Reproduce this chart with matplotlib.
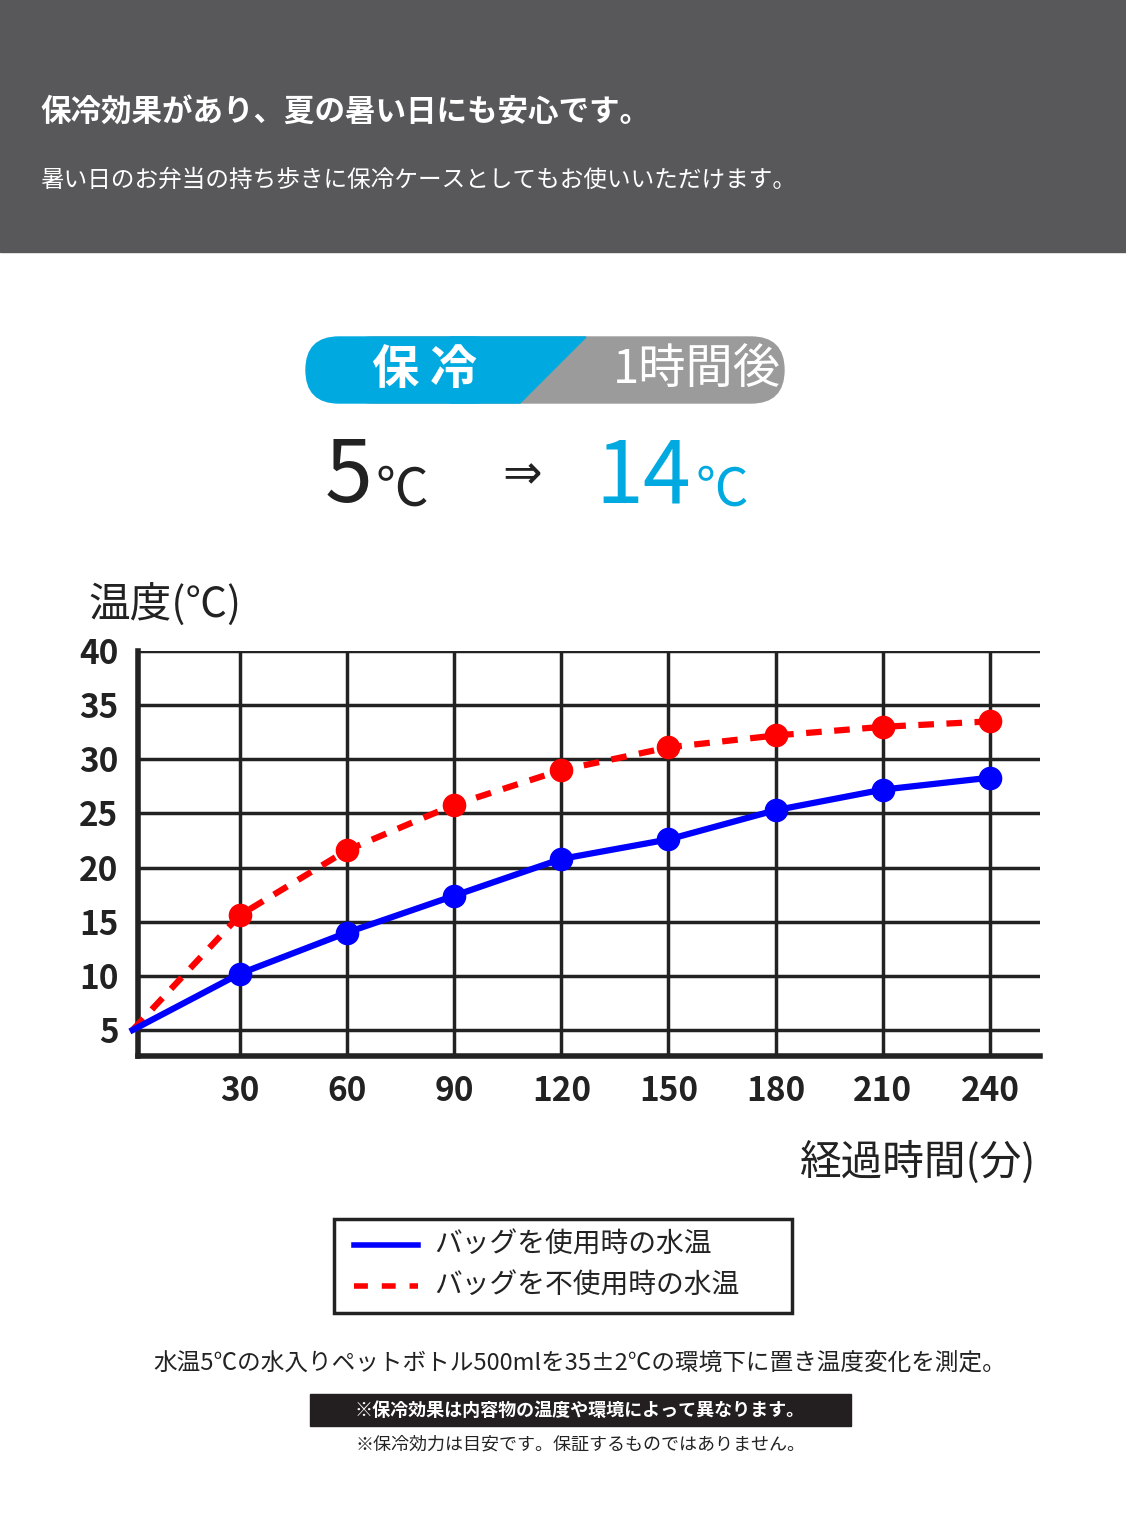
import matplotlib
matplotlib.use("Agg")
import matplotlib.pyplot as plt
from matplotlib.patches import Rectangle, Polygon, FancyBboxPatch
from matplotlib.lines import Line2D

plt.rcParams['font.family'] = ['Noto Sans CJK JP', 'DejaVu Sans']

minutes = [0, 30, 60, 90, 120, 150, 180, 210, 240]
with_bag = [5, 10.2, 14.0, 17.4, 20.8, 22.6, 25.3, 27.2, 28.3]
without_bag = [5, 15.6, 21.6, 25.8, 29.0, 31.1, 32.2, 33.0, 33.5]
x_ticks = [30, 60, 90, 120, 150, 180, 210, 240]
y_ticks = [5, 10, 15, 20, 25, 30, 35, 40]

W, H = 1126, 1536
fig = plt.figure(figsize=(W / 100, H / 100), dpi=100)

# decorative overlay in pixel coordinates
bg = fig.add_axes([0, 0, 1, 1])
bg.set_xlim(0, W)
bg.set_ylim(H, 0)
bg.axis('off')

bg.add_patch(Rectangle((0, 0), W, 252, color='#58585a'))
bg.text(40, 112, '保冷効果があり、夏の暑い日にも安心です。', color='white',
        fontsize=22, fontweight='bold', va='center')
bg.text(40, 180, '暑い日のお弁当の持ち歩きに保冷ケースとしてもお使いいただけます。',
        color='white', fontsize=17, va='center')

# pill header
bg.add_patch(FancyBboxPatch((340, 337), 444, 66, boxstyle='round,pad=0,rounding_size=33',
                            color='#9b9b9b', mutation_aspect=1))
bg.add_patch(FancyBboxPatch((306, 337), 200, 66, boxstyle='round,pad=0,rounding_size=33',
                            color='#00a9e0'))
bg.add_patch(Polygon([(450, 337), (586, 337), (520, 403), (450, 403)], color='#00a9e0'))
bg.text(425, 370, '保 冷', color='white', fontsize=34, fontweight='bold',
        ha='center', va='center')
bg.text(697, 370, '1時間後', color='white', fontsize=34, ha='center', va='center')

bg.text(325, 478, '5', fontsize=62, color='#222222', va='center')
bg.text(375, 490, '℃', fontsize=38, color='#222222', va='center')
bg.text(522, 476, '⇒', fontsize=34, color='#222222', ha='center', va='center',
        family=['DejaVu Sans'])
bg.text(595, 478, '14', fontsize=62, color='#00a9e0', va='center')
bg.text(695, 490, '℃', fontsize=38, color='#00a9e0', va='center')

bg.text(88, 605, '温度(℃)', fontsize=30, color='#222222', va='center')
bg.text(1036, 1162, '経過時間(分)', fontsize=30, color='#222222', va='center', ha='right')

# legend
bg.add_patch(Rectangle((334, 1219), 458, 94, fill=False, lw=2.5, ec='#222222'))
bg.add_line(Line2D([354, 418], [1245, 1245], color='#0000ff', lw=4))
bg.add_line(Line2D([354, 418], [1286, 1286], color='#ff0000', lw=4, ls=(0, (2.5, 2.5))))
bg.text(434, 1245, 'バッグを使用時の水温', fontsize=20, va='center', color='#222222')
bg.text(434, 1286, 'バッグを不使用時の水温', fontsize=20, va='center', color='#222222')

bg.text(580, 1363, '水温5℃の水入りペットボトル500mlを35±2℃の環境下に置き温度変化を測定。',
        fontsize=17, ha='center', va='center', color='#222222')
bg.add_patch(Rectangle((310, 1394), 541, 32, color='#231f20'))
bg.text(580, 1410, '※保冷効果は内容物の温度や環境によって異なります。', fontsize=13,
        fontweight='bold', color='white', ha='center', va='center')
bg.text(580, 1445, '※保冷効力は目安です。保証するものではありません。', fontsize=13,
        color='#222222', ha='center', va='center')

# chart
ax = fig.add_axes([138 / W, 1 - 1056 / H, (1040 - 138) / W, (1056 - 651) / H])
ax.set_xlim(1.5, 254)
ax.set_ylim(2.6, 40)
ax.set_xticks(x_ticks)
ax.set_yticks(y_ticks)
ax.grid(True, color='#222222', lw=2.5)
for s in ['top', 'right']:
    ax.spines[s].set_visible(False)
for s in ['left', 'bottom']:
    ax.spines[s].set_linewidth(4)
    ax.spines[s].set_color('#222222')
ax.tick_params(length=0, labelsize=24, pad=14)
for lab in ax.get_xticklabels() + ax.get_yticklabels():
    lab.set_fontweight('bold')
    lab.set_color('#222222')
ax.plot(minutes, without_bag, color='#ff0000', lw=4.5, ls=(0, (2.5, 2)),
        marker='o', markersize=16, markevery=list(range(1, 9)), clip_on=False, zorder=3)
ax.plot(minutes, with_bag, color='#0000ff', lw=4.5,
        marker='o', markersize=16, markevery=list(range(1, 9)), clip_on=False, zorder=3)

fig.savefig('out.png', dpi=100)
